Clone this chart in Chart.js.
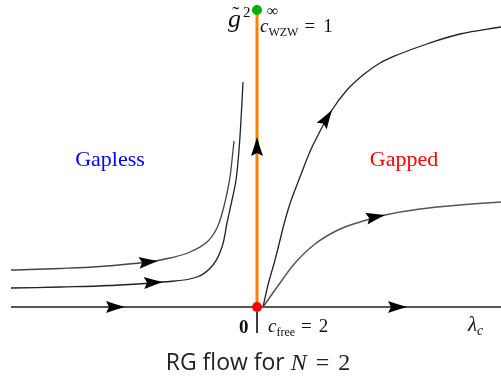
<!DOCTYPE html>
<html>
<head>
<meta charset="utf-8">
<script src="https://cdn.jsdelivr.net/npm/chart.js@4.4.1/dist/chart.umd.min.js"></script>
<style>
  html, body { margin: 0; padding: 0; background: #fff; }
  #wrap { width: 501px; height: 376px; position: relative; }
</style>
</head>
<body>
<div id="wrap"><canvas id="flow"></canvas></div>
<script>
// flow lines in (lambda_c, g^2) plane, origin at the free fixed point
const axisLine = [[-246, 0], [244, 0]];
const criticalLine = [[0, 0], [0, 296]];
const tickMark = [[0, -5], [0, -26]];

const gaplessUpper = [[-246, 37], [-197, 38.5], [-157, 40.5], [-109, 45], [-87, 49], [-67, 55], [-50, 65],
  [-40, 79], [-34, 97], [-30, 114], [-27, 130], [-25, 147], [-23, 166]];
const gaplessLower = [[-246, 19], [-197, 20], [-147, 21.5], [-94, 25], [-60, 30], [-44, 42], [-35, 60],
  [-30, 84], [-25, 107], [-21, 127], [-18, 157], [-16, 187], [-14, 225]];
const gappedUpper = [[6, 0], [11, 22], [18, 47], [31, 97], [43, 130], [56, 162], [75, 197], [90, 217],
  [106, 232], [123, 244], [140, 252], [170, 263], [203, 273], [244, 280]];
const gappedLower = [[6, 0], [13, 10], [23, 24], [38, 44], [58, 63], [81, 77], [103, 85], [128, 92],
  [163, 98], [203, 102], [244, 105]];

const wzwPoint = [[0, 297]];
const freePoint = [[0, 0]];

// arrow heads: [tipX, tipY, tailX, tailY]
const arrows = [
  [-132, 0, -152, 0],
  [150, 0, 130, 0],
  [-99, 46, -119, 44],
  [-94, 25, -114, 24],
  [0, 170, 0, 150],
  [75, 197, 64, 180],
  [128, 92, 108, 88]
];

const toXY = arr => arr.map(([x, y]) => ({x, y}));

function line(data, color, width, order, curved) {
  return {
    data: toXY(data), showLine: true, borderColor: color, borderWidth: width,
    pointRadius: 0, order, tension: curved ? 0.4 : 0
  };
}

// draw a run of text pieces with mixed fonts
function runs(ctx, x, y, parts) {
  let cx = x;
  parts.forEach(p => {
    ctx.font = p.font;
    ctx.fillStyle = p.color || '#111';
    cx += p.dx || 0;
    ctx.fillText(p.t, cx, y + (p.dy || 0));
    cx += ctx.measureText(p.t).width;
  });
}

const serif = '"Liberation Serif", serif';

const decorations = {
  id: 'decorations',
  afterDatasetsDraw(chart) {
    const {ctx, scales: {x, y}} = chart;
    ctx.save();
    // arrow heads
    arrows.forEach(([tx, ty, bx, by]) => {
      const px = x.getPixelForValue(tx), py = y.getPixelForValue(ty);
      const qx = x.getPixelForValue(bx), qy = y.getPixelForValue(by);
      const a = Math.atan2(py - qy, px - qx);
      ctx.save();
      ctx.translate(px, py);
      ctx.rotate(a);
      ctx.beginPath();
      ctx.moveTo(0, 0);
      ctx.quadraticCurveTo(-9, -2.5, -19, -6);
      ctx.lineTo(-16, 0);
      ctx.lineTo(-19, 6);
      ctx.quadraticCurveTo(-9, 2.5, 0, 0);
      ctx.closePath();
      ctx.fillStyle = '#000';
      ctx.fill();
      ctx.restore();
    });

    ctx.textBaseline = 'alphabetic';
    const X = v => x.getPixelForValue(v), Y = v => y.getPixelForValue(v);

    // coupling label at the top of the critical line
    runs(ctx, X(-29), Y(280), [{t: 'g', font: 'italic 26px ' + serif}]);
    runs(ctx, X(-25), Y(286), [{t: '\u02dc', font: '22px ' + serif}]);
    runs(ctx, X(-14), Y(290), [{t: '2', font: '15px ' + serif}]);
    runs(ctx, X(10), Y(291), [{t: '\u221e', font: '16px ' + serif}]);
    runs(ctx, X(3), Y(275), [
      {t: 'c', font: 'italic 19px ' + serif},
      {t: 'WZW', font: '12px ' + serif, dy: 4},
      {t: '=', font: '19px ' + serif, dx: 6},
      {t: '1', font: '19px ' + serif, dx: 8}
    ]);

    // phase labels
    ctx.textAlign = 'center';
    ctx.font = '22px ' + serif;
    ctx.fillStyle = '#0000ff';
    ctx.fillText('Gapless', X(-147), Y(141));
    ctx.fillStyle = '#ff0000';
    ctx.fillText('Gapped', X(147), Y(141));
    ctx.textAlign = 'left';

    // axis labels
    runs(ctx, X(-18), Y(-26), [{t: '0', font: 'bold 19px ' + serif}]);
    runs(ctx, X(11), Y(-25), [
      {t: 'c', font: 'italic 19px ' + serif},
      {t: 'free', font: '12px ' + serif, dy: 4},
      {t: '=', font: '19px ' + serif, dx: 6},
      {t: '2', font: '19px ' + serif, dx: 7}
    ]);
    runs(ctx, X(211), Y(-24), [
      {t: '\u03bb', font: 'italic 21px ' + serif},
      {t: 'c', font: 'italic 14px ' + serif, dy: 4}
    ]);

    // caption
    const capSans = '23px "Open Sans", sans-serif';
    ctx.font = capSans;
    const w1 = ctx.measureText('RG flow for ').width;
    ctx.font = 'italic 24px ' + serif;
    const w2 = ctx.measureText('N').width;
    ctx.font = '24px ' + serif;
    const w3 = ctx.measureText('=2').width + 18;
    const start = X(1) - (w1 + w2 + w3) / 2;
    runs(ctx, start, Y(-63), [
      {t: 'RG flow for ', font: capSans, color: '#222'},
      {t: 'N', font: 'italic 24px ' + serif, color: '#222'},
      {t: '=', font: '24px ' + serif, color: '#222', dx: 9},
      {t: '2', font: '24px ' + serif, color: '#222', dx: 9}
    ]);
    ctx.restore();
  }
};

new Chart(document.getElementById('flow'), {
  type: 'scatter',
  data: {
    datasets: [
      {data: toXY(wzwPoint), pointRadius: 5, pointBackgroundColor: '#00b000', pointBorderWidth: 0, order: 0},
      {data: toXY(freePoint), pointRadius: 5, pointBackgroundColor: '#ff0000', pointBorderWidth: 0, order: 0},
      line(criticalLine, '#ff8000', 3, 1, false),
      line(axisLine, '#555', 2, 2, false),
      line(tickMark, '#222', 1, 2, false),
      line(gaplessUpper, '#444', 1.3, 3, true),
      line(gaplessLower, '#222', 1.3, 3, true),
      line(gappedUpper, '#222', 1.3, 3, true),
      line(gappedLower, '#555', 1.5, 3, true)
    ]
  },
  options: {
    responsive: true,
    maintainAspectRatio: false,
    animation: false,
    layout: {padding: 0, autoPadding: false},
    plugins: {legend: {display: false}, tooltip: {enabled: false}},
    scales: {
      x: {type: 'linear', display: false, min: -257, max: 244},
      y: {type: 'linear', display: false, min: -69, max: 307}
    }
  },
  plugins: [decorations]
});
</script>
</body>
</html>
